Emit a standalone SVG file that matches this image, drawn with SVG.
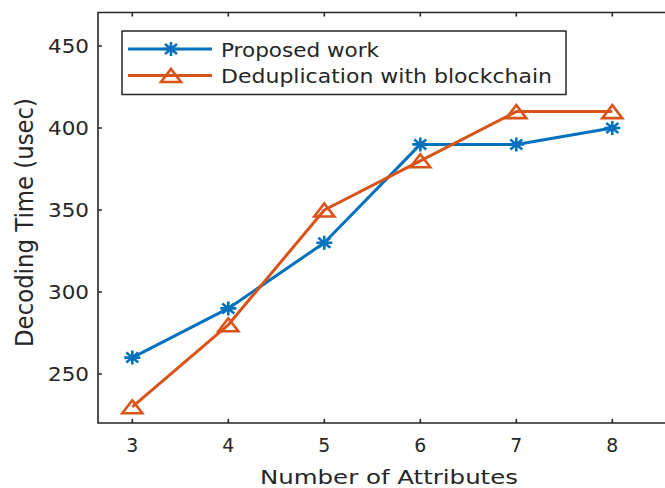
<svg xmlns="http://www.w3.org/2000/svg" width="665" height="488" viewBox="0 0 665 488">
<style>
text{font-family:"DejaVu Sans","Liberation Sans",sans-serif;fill:#262626}
.tk{font-size:19px}
.lab{font-size:20px}
.ax{stroke:#262626;stroke-width:1.6;fill:none}
.blue{stroke:#0072BD;stroke-width:3;fill:none;stroke-linejoin:round}
.orange{stroke:#D95319;stroke-width:3;fill:none;stroke-linejoin:round}
</style>
<defs>
<g id="star"><path d="M-8,0H8M0,-7V7M-6,-5L6,5M-6,5L6,-5" stroke="#0072BD" stroke-width="2.6" fill="none"/></g>
<g id="tri"><polygon points="0,-6.5 10,6.5 -10,6.5" stroke="#D95319" stroke-width="2.6" fill="none" stroke-linejoin="miter"/></g>
</defs>
<rect width="665" height="488" fill="#fff"/>
<g id="axes">
<path class="ax" d="M670,12.5H98V423H670"/>
<path class="ax" d="M132.3,423v-4M228.3,423v-4M324.3,423v-4M420.3,423v-4M516.3,423v-4M612.3,423v-4M132.3,12.5v4M228.3,12.5v4M324.3,12.5v4M420.3,12.5v4M516.3,12.5v4M612.3,12.5v4M98,46h4M98,128h4M98,210h4M98,292h4M98,374h4"/>
<g class="tk" text-anchor="middle">
<text x="132.3" y="452" textLength="12" lengthAdjust="spacingAndGlyphs">3</text>
<text x="228.3" y="452" textLength="12" lengthAdjust="spacingAndGlyphs">4</text>
<text x="324.3" y="452" textLength="12" lengthAdjust="spacingAndGlyphs">5</text>
<text x="420.3" y="452" textLength="12" lengthAdjust="spacingAndGlyphs">6</text>
<text x="516.3" y="452" textLength="12" lengthAdjust="spacingAndGlyphs">7</text>
<text x="612.3" y="452" textLength="12" lengthAdjust="spacingAndGlyphs">8</text>
</g>
<g class="tk" text-anchor="end">
<text x="89" y="53" textLength="41" lengthAdjust="spacingAndGlyphs">450</text>
<text x="89" y="135" textLength="41" lengthAdjust="spacingAndGlyphs">400</text>
<text x="89" y="217" textLength="41" lengthAdjust="spacingAndGlyphs">350</text>
<text x="89" y="299" textLength="41" lengthAdjust="spacingAndGlyphs">300</text>
<text x="89" y="381" textLength="41" lengthAdjust="spacingAndGlyphs">250</text>
</g>
<text class="lab" x="389" y="484" text-anchor="middle" textLength="258" lengthAdjust="spacingAndGlyphs">Number of Attributes</text>
<text class="lab" transform="translate(33,222.5) scale(1.2,1) rotate(-90)" text-anchor="middle" textLength="249" lengthAdjust="spacingAndGlyphs">Decoding Time (usec)</text>
</g>
<g id="connectors">
<polyline class="blue" points="132.3,357.6 228.3,308.4 324.3,242.8 420.3,144.4 516.3,144.4 612.3,128"/>
<polyline class="orange" points="132.3,406.8 228.3,324.8 324.3,210 420.3,160.8 516.3,111.6 612.3,111.6"/>
</g>
<g id="series-proposed">
<use href="#star" x="132.3" y="357.6"/>
<use href="#star" x="228.3" y="308.4"/>
<use href="#star" x="324.3" y="242.8"/>
<use href="#star" x="420.3" y="144.4"/>
<use href="#star" x="516.3" y="144.4"/>
<use href="#star" x="612.3" y="128"/>
</g>
<g id="series-dedup">
<use href="#tri" x="132.3" y="406.8"/>
<use href="#tri" x="228.3" y="324.8"/>
<use href="#tri" x="324.3" y="210"/>
<use href="#tri" x="420.3" y="160.8"/>
<use href="#tri" x="516.3" y="111.6"/>
<use href="#tri" x="612.3" y="111.6"/>
</g>
<g id="legend">
<rect x="122" y="31" width="444" height="63.5" fill="#fff" stroke="#262626" stroke-width="1.5"/>
<line class="blue" x1="128" y1="49" x2="212" y2="49"/>
<use href="#star" x="171" y="49"/>
<line class="orange" x1="128" y1="75.5" x2="212" y2="75.5"/>
<use href="#tri" x="171" y="75.5"/>
<text x="221" y="56.5" font-size="19" textLength="158" lengthAdjust="spacingAndGlyphs">Proposed work</text>
<text x="221" y="83" font-size="19" textLength="331" lengthAdjust="spacingAndGlyphs">Deduplication with blockchain</text>
</g>
</svg>
